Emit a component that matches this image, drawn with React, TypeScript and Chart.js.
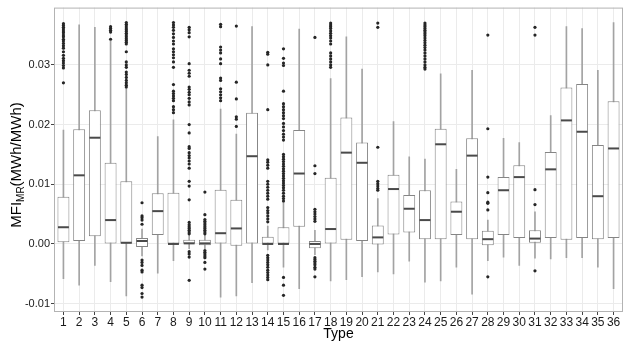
import { useEffect, useRef } from 'react';
import { Chart, registerables } from 'chart.js';

Chart.register(...registerables);

const types = [1, 2, 3, 4, 5, 6, 7, 8, 9, 10, 11, 12, 13, 14, 15, 16, 17, 18, 19, 20, 21, 22, 23, 24, 25, 26, 27, 28, 29, 30, 31, 32, 33, 34, 35, 36];

const whiskerLow = [-0.0058, -0.0069, -0.0036, -0.0063, -0.0087, -0.002, -0.0049, -0.0028, -0.0008, -0.0008, -0.0089, -0.0087, -0.0065, -0.001, -0.0039, -0.0075, -0.0018, -0.0062, -0.006, -0.0055, -0.0047, -0.005, -0.0029, -0.0064, -0.0062, -0.0039, -0.0084, -0.0028, -0.0022, -0.0036, -0.0024, -0.0025, -0.0023, -0.0023, -0.0039, -0.0075];
const q1 = [0.0003, 0.0005, 0.0013, 0.0, 0.0, -0.0005, 0.0015, 0.0, 0.0, -0.0002, 0.0, -0.0003, 0.0, 0.0, 0.0, 0.0029, -0.0007, 0.0, 0.0007, 0.0005, -0.0001, 0.0016, 0.0019, 0.0008, 0.0008, 0.0015, 0.0008, -0.0002, 0.0015, 0.001, 0.0002, 0.001, 0.0007, 0.001, 0.0008, 0.001];
const median = [0.0028, 0.0115, 0.0178, 0.004, 0.0002, 0.0005, 0.0055, 0.0, 0.0001, 0.0001, 0.0018, 0.0026, 0.0147, 0.0, 0.0, 0.0118, 0.0, 0.0025, 0.0153, 0.0136, 0.0011, 0.0092, 0.0059, 0.004, 0.0167, 0.0054, 0.0148, 0.0008, 0.009, 0.0112, 0.0009, 0.0125, 0.0207, 0.0188, 0.008, 0.016];
const q3 = [0.0079, 0.0192, 0.0224, 0.0136, 0.0105, 0.001, 0.0085, 0.0086, 0.0007, 0.0007, 0.0091, 0.0074, 0.022, 0.0012, 0.0028, 0.0191, 0.0005, 0.0111, 0.0212, 0.017, 0.0031, 0.0116, 0.0082, 0.009, 0.0193, 0.0071, 0.0177, 0.0022, 0.0112, 0.0132, 0.0023, 0.0154, 0.0262, 0.0268, 0.0166, 0.0239];
const whiskerHigh = [0.0191, 0.0367, 0.0363, 0.034, 0.0262, 0.0025, 0.018, 0.0208, 0.0016, 0.0016, 0.0226, 0.0184, 0.0364, 0.003, 0.007, 0.036, 0.0023, 0.0277, 0.0347, 0.0293, 0.0076, 0.0205, 0.0146, 0.0142, 0.0285, 0.0125, 0.0291, 0.004, 0.0177, 0.017, 0.0054, 0.0215, 0.0364, 0.0361, 0.0291, 0.0371];

const outliers: number[][] = [
  [0.0369, 0.0366, 0.0363, 0.036, 0.0357, 0.0354, 0.035, 0.0347, 0.0343, 0.034, 0.0336, 0.0332, 0.0328, 0.0322, 0.0316, 0.0311, 0.0307, 0.0303, 0.0299, 0.0295, 0.027],
  [],
  [],
  [0.0364, 0.0361, 0.0358, 0.0355, 0.0343],
  [0.0371, 0.0368, 0.0365, 0.0362, 0.0359, 0.0356, 0.0353, 0.035, 0.0347, 0.0344, 0.0341, 0.0338, 0.0335, 0.0322, 0.0305, 0.03, 0.0296, 0.0288, 0.0284, 0.0279, 0.0274, 0.027, 0.0266, 0.0263],
  [0.0069, 0.0047, 0.0044, 0.004, 0.0033, -0.0027, -0.0031, -0.0036, -0.0044, -0.0047, -0.0069, -0.0073, -0.0083, -0.0089],
  [],
  [0.0371, 0.0367, 0.0363, 0.0358, 0.0352, 0.0346, 0.034, 0.0335, 0.0327, 0.0322, 0.0317, 0.0312, 0.0305, 0.0296, 0.0267, 0.0256, 0.0252, 0.0248, 0.0244, 0.024, 0.023, 0.0225, 0.022],
  [0.0363, 0.0359, 0.0354, 0.0347, 0.0302, 0.0291, 0.0286, 0.0281, 0.0263, 0.0259, 0.0254, 0.025, 0.0244, 0.0238, 0.0233, 0.02, 0.0186, 0.0163, 0.016, 0.0153, 0.0148, 0.0144, 0.0139, 0.0134, 0.0127, 0.0105, 0.0097, 0.0074, 0.0036, 0.0032, 0.0029, 0.0026, 0.0023, 0.002, 0.0017, -0.0013, -0.0017, -0.0022, -0.0061],
  [0.0087, 0.0049, 0.0041, 0.0038, 0.0035, 0.0032, 0.0029, 0.0026, 0.0023, 0.002, 0.0017, -0.0011, -0.0014, -0.0017, -0.002, -0.0023, -0.0031, -0.0042],
  [0.0368, 0.0364, 0.033, 0.0325, 0.032, 0.031, 0.0302, 0.0278, 0.0274, 0.026, 0.0255, 0.025, 0.0245, 0.024],
  [0.0365, 0.0271, 0.0243, 0.0213, 0.0209, 0.0197],
  [],
  [0.0321, 0.0318, 0.03, 0.0225, 0.0141, 0.0137, 0.0132, 0.0127, 0.0105, 0.01, 0.0095, 0.009, 0.0085, 0.008, 0.0075, 0.0061, 0.0056, 0.0052, 0.0047, 0.0042, 0.0037, -0.0019, -0.0023, -0.0027, -0.0031, -0.0035, -0.0039, -0.0044, -0.0048, -0.0052, -0.0056, -0.006],
  [0.0327, 0.0311, 0.0303, 0.0299, 0.0256, 0.0235, 0.023, 0.0225, 0.022, 0.0215, 0.021, 0.0202, 0.0196, 0.019, 0.0184, 0.0179, 0.0174, 0.015, 0.0146, 0.0142, 0.0138, 0.0134, 0.013, 0.0126, 0.0122, 0.0118, 0.0114, 0.011, 0.0106, 0.0102, 0.0098, 0.0094, 0.009, 0.0085, 0.008, 0.0076, 0.0072, -0.0056, -0.0069, -0.0086],
  [],
  [0.0346, 0.0131, 0.0118, 0.0058, 0.0054, 0.005, 0.0046, 0.0042, 0.0038, -0.0023, -0.0026, -0.0029, -0.0032, -0.0035, -0.0039, -0.0042, -0.0055],
  [0.037, 0.0367, 0.0364, 0.0361, 0.0357, 0.0353, 0.0349, 0.0345, 0.034, 0.0335, 0.032, 0.0315, 0.031, 0.0305, 0.03, 0.0296],
  [],
  [],
  [0.037, 0.0363, 0.0162, 0.0105, 0.0101, 0.0097, 0.0093, 0.009],
  [],
  [],
  [0.037, 0.0367, 0.0364, 0.0361, 0.0358, 0.0355, 0.0352, 0.0349, 0.0345, 0.0341, 0.0337, 0.0333, 0.0329, 0.0325, 0.032, 0.0315, 0.031, 0.0305, 0.03, 0.0296, 0.0293],
  [],
  [],
  [],
  [0.035, 0.0193, 0.0112, 0.0086, 0.007, 0.0068, 0.0057, -0.0055],
  [],
  [],
  [0.0363, 0.035, 0.0091, 0.0066, -0.0045],
  [],
  [],
  [],
  [],
  [],
];

const yTicks = [-0.01, 0, 0.01, 0.02, 0.03];

const FONT = '"Liberation Sans", Arial, sans-serif';

export default function App() {
  const ref = useRef<HTMLCanvasElement>(null);

  useEffect(() => {
    document.body.style.margin = '0';
    const canvas = ref.current;
    if (!canvas) return;

    const extras = {
      id: 'boxExtras',
      afterDatasetsDraw(chart: any) {
        const meta = chart.getDatasetMeta(1);
        const ys = chart.scales.y;
        const ctx = chart.ctx;
        ctx.save();
        ctx.strokeStyle = '#4a4a4a';
        ctx.lineWidth = 2;
        meta.data.forEach((el: any, i: number) => {
          const { x, width } = el.getProps(['x', 'width'], true);
          const py = ys.getPixelForValue(median[i]);
          ctx.beginPath();
          ctx.moveTo(x - width / 2 + 0.5, py);
          ctx.lineTo(x + width / 2 - 0.5, py);
          ctx.stroke();
        });
        ctx.restore();
      },
      afterDraw(chart: any) {
        const ctx = chart.ctx;
        const ca = chart.chartArea;
        ctx.save();
        ctx.strokeStyle = '#b3b3b3';
        ctx.lineWidth = 1;
        ctx.strokeRect(ca.left + 0.5, ca.top + 0.5, ca.right - ca.left - 1, ca.bottom - ca.top - 1);

        // x axis title
        ctx.fillStyle = '#000';
        ctx.font = `14px ${FONT}`;
        ctx.textAlign = 'center';
        ctx.textBaseline = 'alphabetic';
        ctx.fillText('Type', (ca.left + ca.right) / 2, 338);

        // y axis title with subscript
        const big = `15px ${FONT}`;
        const small = `10px ${FONT}`;
        ctx.font = big;
        const w1 = ctx.measureText('MFI').width;
        const w3 = ctx.measureText('(MWh/MWh)').width;
        ctx.font = small;
        const w2 = ctx.measureText('MR').width;
        const total = w1 + w2 + w3;
        ctx.translate(21, 165);
        ctx.rotate(-Math.PI / 2);
        ctx.textAlign = 'left';
        let x0 = -total / 2;
        ctx.font = big;
        ctx.fillText('MFI', x0, 0);
        x0 += w1;
        ctx.font = small;
        ctx.fillText('MR', x0, 2.5);
        x0 += w2;
        ctx.font = big;
        ctx.fillText('(MWh/MWh)', x0, 0);
        ctx.restore();
      },
    };

    const outlierPoints: { x: number; y: number }[] = [];
    types.forEach((t, i) => {
      outliers[i].forEach((v) => outlierPoints.push({ x: t, y: v }));
    });

    const chart = new Chart(canvas, {
      type: 'bar',
      data: {
        labels: types.map(String),
        datasets: [
          {
            type: 'bar',
            data: types.map((_, i) => [whiskerLow[i], whiskerHigh[i]]),
            backgroundColor: '#a3a3a3',
            borderWidth: 0,
            barThickness: 1,
            grouped: false,
            order: 3,
          } as any,
          {
            type: 'bar',
            data: types.map((_, i) => [q1[i], q3[i]]),
            backgroundColor: '#ffffff',
            borderColor: '#858585',
            borderWidth: 1,
            borderSkipped: false,
            grouped: false,
            barPercentage: 0.76,
            categoryPercentage: 1,
            order: 1,
          } as any,
          {
            type: 'scatter',
            data: outlierPoints,
            backgroundColor: '#262626',
            borderWidth: 0,
            pointRadius: 1.6,
            pointHoverRadius: 1.6,
            order: 2,
          } as any,
        ],
      },
      options: {
        animation: false,
        responsive: true,
        maintainAspectRatio: false,
        layout: { padding: { top: 5, right: 5, left: 0, bottom: 0 } },
        plugins: {
          legend: { display: false },
          tooltip: { enabled: false },
        },
        scales: {
          x: {
            type: 'linear',
            min: 0.4,
            max: 36.6,
            offset: false,
            afterBuildTicks: (s: any) => {
              s.ticks = types.map((v) => ({ value: v }));
            },
            afterFit: (s: any) => {
              s.height = 34;
            },
            ticks: {
              autoSkip: false,
              maxRotation: 0,
              minRotation: 0,
              padding: 0,
              color: '#1a1a1a',
              font: { family: FONT, size: 12 },
              callback: (v: any) => String(v),
            },
            grid: {
              offset: false,
              color: '#ebebeb',
              tickColor: '#444',
              tickLength: 3,
              lineWidth: 1,
            },
            border: { display: false },
          },
          y: {
            type: 'linear',
            min: -0.0114,
            max: 0.0396,
            afterBuildTicks: (s: any) => {
              s.ticks = yTicks.map((v) => ({ value: v }));
            },
            afterFit: (s: any) => {
              s.width = 54;
            },
            ticks: {
              padding: 1,
              color: '#1a1a1a',
              font: { family: FONT, size: 11 },
              callback: (v: any) => Number(v).toFixed(2),
            },
            grid: {
              color: '#ebebeb',
              tickColor: '#444',
              tickLength: 3,
              lineWidth: 1,
            },
            border: { display: false },
          },
        },
      } as any,
      plugins: [extras],
    });

    return () => chart.destroy();
  }, []);

  return (
    <div style={{ width: 628, height: 346, position: 'relative', overflow: 'hidden' }}>
      <canvas ref={ref} />
    </div>
  );
}
